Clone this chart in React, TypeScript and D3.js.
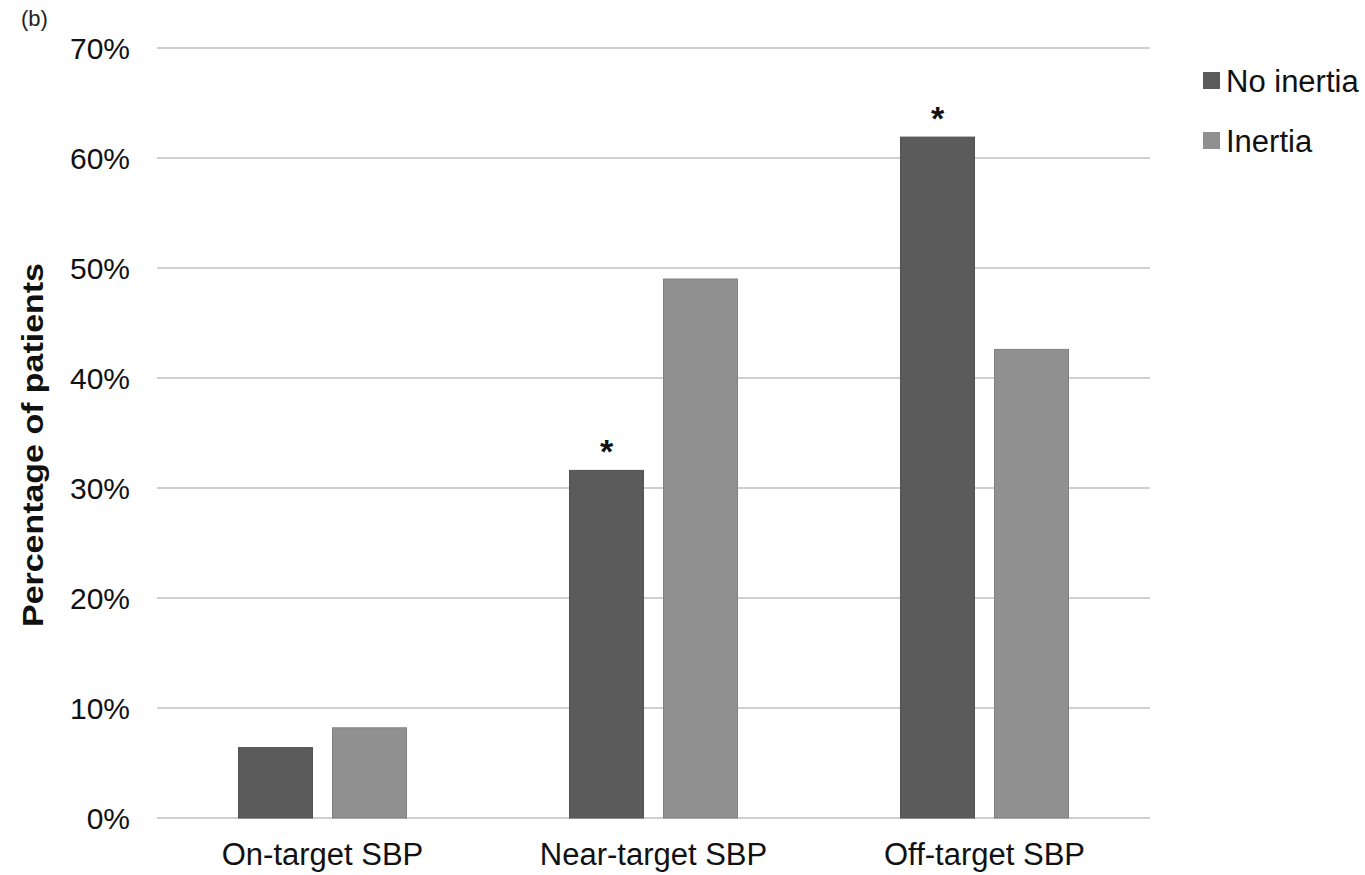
import React from 'react';
import * as d3 from 'd3';

// Data
const categories = ['On-target SBP', 'Near-target SBP', 'Off-target SBP'];
const seriesNames = ['No inertia', 'Inertia'];
const noInertia = [6.4, 31.6, 61.9];
const inertia = [8.2, 49.0, 42.6];
const significant = [false, true, true]; // asterisk above "No inertia"
const yTicks = [0, 10, 20, 30, 40, 50, 60, 70];

const W = 1365;
const H = 875;
const margin = { top: 48, right: 215, bottom: 57, left: 157 };
const colors = ['#5b5b5b', '#909090'];
const font = '"Liberation Sans", Arial, Helvetica, sans-serif';

const App: React.FC = () => {
  const x = d3.scaleBand<string>()
    .domain(categories)
    .range([margin.left, W - margin.right]);

  const xInner = d3.scaleBand<string>()
    .domain(seriesNames)
    .range([0, x.bandwidth()])
    .paddingInner(0.213)
    .paddingOuter(0.867);

  const y = d3.scaleLinear()
    .domain([0, 70])
    .range([H - margin.bottom, margin.top]);

  const values = [noInertia, inertia];

  return (
    <svg width={W} height={H} style={{ position: 'absolute', left: 0, top: 0, background: '#fff' }}
      fontFamily={font}>
      <text x={21} y={26} fontSize={22} fill="#222">(b)</text>

      {/* gridlines + y ticks */}
      {yTicks.map(t => (
        <g key={t}>
          <line x1={margin.left} x2={W - margin.right} y1={y(t)} y2={y(t)}
            stroke="#cfcfcf" strokeWidth={2} />
          <text x={130} y={y(t)} dy="0.36em" textAnchor="end" fontSize={30} fill="#111">
            {`${t}%`}
          </text>
        </g>
      ))}

      {/* bars */}
      {categories.map((c, ci) => (
        <g key={c} transform={`translate(${x(c)},0)`}>
          {seriesNames.map((s, si) => {
            const v = values[si][ci];
            return (
              <rect key={s} x={xInner(s)} y={y(v)} width={xInner.bandwidth()}
                height={y(0) - y(v)} fill={colors[si]} stroke={d3.color(colors[si])!.darker(0.3).toString()}
                strokeWidth={1} />
            );
          })}
          {significant[ci] && (
            <text x={(xInner(seriesNames[0]) ?? 0) + xInner.bandwidth() / 2}
              y={y(noInertia[ci]) - 28} dy="0.62em" textAnchor="middle"
              fontSize={34} fontWeight="bold" fill="#111">*</text>
          )}
          <text x={x.bandwidth() / 2} y={865} textAnchor="middle" fontSize={31} fill="#111">{c}</text>
        </g>
      ))}

      {/* y axis title */}
      <text transform={`translate(43,${(y(0) + y(70)) / 2 + 12}) rotate(-90)`} textAnchor="middle"
        fontSize={30} fontWeight="bold" fill="#111" textLength={364} lengthAdjust="spacingAndGlyphs">
        Percentage of patients
      </text>

      {/* legend */}
      {seriesNames.map((s, i) => (
        <g key={s} transform={`translate(1203,${72 + i * 60})`}>
          <rect x={0} y={0} width={17} height={17} fill={colors[i]} />
          <text x={23} y={8.5} dy="0.36em" fontSize={31} fill="#111">{s}</text>
        </g>
      ))}
    </svg>
  );
};

export default App;
